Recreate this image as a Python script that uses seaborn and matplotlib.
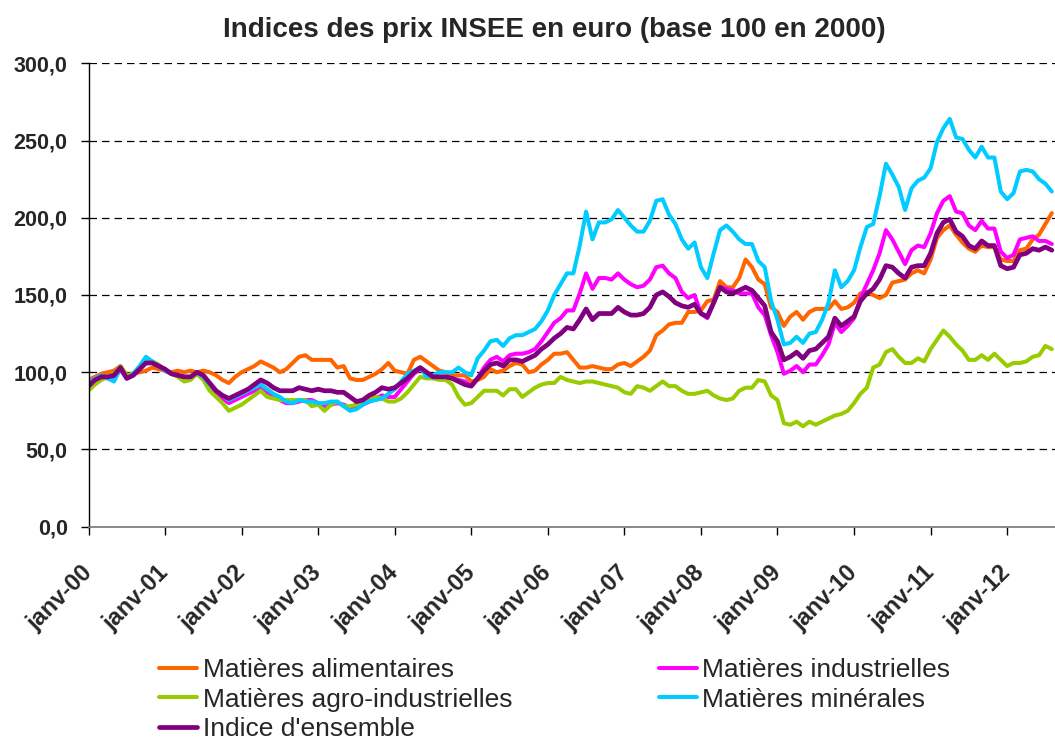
import numpy as np
import pandas as pd
import matplotlib
matplotlib.use("Agg")
import matplotlib.pyplot as plt
import matplotlib.transforms as mtransforms
import seaborn as sns
from matplotlib.ticker import FuncFormatter

# Monthly indices, Jan 2000 -> Aug 2012 (base 100 in 2000)
year_labels = ["janv-%02d" % y for y in range(13)]

alimentaires = [
    95, 97, 99, 100, 101, 104, 98, 99, 100, 101, 103, 102,
    101, 100, 101, 100, 101, 100, 101, 100, 98, 95, 93, 97,
    100, 102, 104, 107, 105, 103, 100, 102, 106, 110, 111, 108,
    108, 108, 108, 103, 104, 96, 95, 95, 97, 99, 102, 106,
    101, 100, 99, 108, 110, 107, 104, 101, 100, 98, 98, 98,
    94, 95, 97, 102, 100, 101, 104, 106, 105, 100, 101, 105,
    108, 112, 112, 113, 108, 103, 103, 104, 103, 102, 102, 105,
    106, 104, 107, 110, 114, 124, 127, 131, 132, 132, 139, 139,
    140, 146, 147, 159, 155, 155, 161, 173, 168, 160, 157, 142,
    139, 130, 136, 139, 134, 139, 141, 141, 141, 146, 141, 142,
    145, 151, 152, 150, 148, 150, 158, 159, 160, 164, 166, 164,
    173, 187, 192, 195, 189, 184, 180, 178, 182, 181, 181, 173,
    172, 172, 179, 180, 186, 189, 196, 203,
]

industrielles = [
    90, 95, 97, 96, 95, 102, 96, 98, 102, 107, 106, 104,
    101, 99, 98, 97, 96, 99, 97, 91, 86, 83, 80, 82,
    84, 86, 88, 90, 87, 85, 82, 80, 80, 81, 82, 82,
    80, 78, 79, 80, 79, 77, 77, 79, 81, 83, 85, 84,
    84, 89, 94, 99, 102, 99, 98, 97, 97, 96, 95, 94,
    91, 96, 103, 108, 110, 107, 111, 112, 112, 113, 115, 120,
    126, 132, 135, 140, 140, 151, 164, 154, 161, 161, 160, 164,
    160, 157, 155, 156, 160, 168, 169, 164, 161, 152, 148, 150,
    138, 135, 145, 155, 154, 153, 151, 151, 151, 142, 137, 124,
    113, 99, 101, 104, 100, 105, 105, 111, 118, 132, 126, 130,
    135, 148, 157, 166, 177, 192, 186, 178, 170, 179, 182, 181,
    190, 203, 211, 214, 204, 203, 195, 192, 198, 193, 193, 178,
    174, 176, 186, 187, 188, 185, 185, 183,
]

agro_industrielles = [
    88, 92, 95, 97, 99, 104, 98, 99, 103, 107, 107, 105,
    101, 99, 97, 94, 95, 99, 95, 88, 84, 80, 75, 77,
    79, 82, 85, 88, 84, 83, 82, 82, 82, 82, 82, 78,
    79, 75, 79, 81, 78, 78, 79, 80, 84, 84, 83, 81,
    81, 83, 87, 92, 97, 96, 96, 95, 95, 92, 84, 79,
    80, 84, 88, 88, 88, 85, 89, 89, 84, 87, 90, 92,
    93, 93, 97, 95, 94, 93, 94, 94, 93, 92, 91, 90,
    87, 86, 91, 90, 88, 91, 94, 91, 91, 88, 86, 86,
    87, 88, 85, 83, 82, 83, 88, 90, 90, 95, 94, 85,
    82, 67, 66, 68, 65, 68, 66, 68, 70, 72, 73, 75,
    80, 86, 90, 103, 105, 113, 115, 110, 106, 106, 109, 107,
    115, 121, 127, 123, 118, 114, 108, 108, 111, 108, 112, 108,
    104, 106, 106, 107, 110, 111, 117, 115,
]

minerales = [
    93, 96, 98, 96, 94, 103, 96, 99, 104, 110, 107, 104,
    101, 99, 98, 97, 97, 100, 97, 92, 88, 85, 82, 84,
    86, 88, 90, 92, 89, 86, 84, 81, 80, 82, 81, 81,
    80, 80, 81, 81, 78, 75, 76, 79, 81, 82, 83, 86,
    89, 94, 99, 101, 103, 97, 98, 100, 100, 100, 103, 100,
    98, 109, 114, 120, 121, 117, 122, 124, 124, 126, 128, 133,
    140, 150, 157, 164, 164, 182, 204, 186, 197, 197, 199, 205,
    200, 195, 191, 191, 198, 211, 212, 202, 196, 186, 180, 184,
    168, 161, 177, 192, 195, 191, 186, 183, 183, 172, 168, 146,
    134, 118, 119, 123, 119, 125, 126, 134, 145, 166, 155, 159,
    166, 181, 194, 196, 214, 235, 228, 220, 205, 219, 224, 226,
    232, 249, 258, 264, 252, 251, 244, 239, 246, 239, 239, 217,
    212, 216, 230, 231, 230, 225, 222, 217,
]

ensemble = [
    91, 95, 97, 97, 98, 103, 96, 98, 102, 106, 106, 104,
    102, 99, 98, 97, 97, 100, 98, 93, 88, 85, 83, 85,
    87, 89, 92, 95, 93, 90, 88, 88, 88, 90, 89, 88,
    89, 88, 88, 87, 87, 84, 81, 82, 85, 87, 90, 89,
    90, 93, 96, 100, 103, 100, 97, 97, 97, 96, 94, 92,
    91, 96, 101, 105, 106, 104, 108, 108, 107, 109, 111, 115,
    118, 122, 125, 129, 128, 134, 141, 134, 138, 138, 138, 142,
    139, 137, 137, 138, 142, 150, 152, 149, 145, 143, 142, 144,
    138, 136, 145, 155, 152, 151, 153, 155, 153, 148, 143, 126,
    120, 108, 110, 113, 109, 114, 115, 119, 123, 135, 130, 133,
    136, 146, 151, 154, 160, 169, 168, 164, 161, 168, 169, 169,
    177, 190, 197, 199, 191, 188, 182, 180, 185, 182, 182, 169,
    167, 168, 176, 177, 180, 179, 181, 179,
]

series = [
    ("Matières alimentaires", alimentaires, "#FF6600", 2.9),
    ("Matières industrielles", industrielles, "#FF00FF", 2.9),
    ("Matières agro-industrielles", agro_industrielles, "#99CC00", 2.9),
    ("Matières minérales", minerales, "#00CCFF", 2.9),
    ("Indice d'ensemble", ensemble, "#800080", 3.4),
]

sns.set_theme(style="white")
plt.rcParams["font.family"] = ["Liberation Sans", "DejaVu Sans"]

W, H = 1055, 745
fig = plt.figure(figsize=(W / 100, H / 100), dpi=100)
ax = fig.add_axes([88.5 / W, 1 - 526.7 / H, (W - 88.5) / W, (526.7 - 63.3) / H])

for name, vals, color, lw in series:
    df = pd.DataFrame({"mois": np.arange(len(vals)), "indice": vals})
    sns.lineplot(data=df, x="mois", y="indice", color=color, linewidth=lw,
                 label=name, legend=False, ax=ax, solid_joinstyle="round")

ax.set_xlim(0, 151.5)
ax.set_ylim(0, 300)
ax.set_xlabel("")
ax.set_ylabel("")

ax.set_yticks(range(0, 301, 50))
ax.yaxis.set_major_formatter(FuncFormatter(lambda v, p: f"{v:.1f}".replace(".", ",")))
ax.set_xticks(range(0, 152, 12))
ax.set_xticklabels(year_labels, rotation=45, ha="right", rotation_mode="anchor")

ax.yaxis.grid(True, linestyle=(0, (6, 4)), color="black", linewidth=0.9)
ax.set_axisbelow(True)
for s in ["top", "right"]:
    ax.spines[s].set_visible(False)
ax.spines["left"].set_color("black")
ax.spines["left"].set_linewidth(1.0)
ax.spines["bottom"].set_color("#808080")
ax.spines["bottom"].set_linewidth(1.3)

ax.tick_params(axis="both", direction="out", length=6, width=1, color="black",
               bottom=True, left=True)
ax.tick_params(axis="y", pad=9, labelsize=15.5)
ax.tick_params(axis="x", pad=19, labelsize=17)
shift = mtransforms.ScaledTranslation(-8 / 100, 0, fig.dpi_scale_trans)
for lab in ax.get_xticklabels():
    lab.set_fontweight("bold")
    lab.set_transform(lab.get_transform() + shift)
for lab in ax.get_yticklabels():
    lab.set_fontweight("bold")

fig.text(554 / W, 1 - 30 / H, "Indices des prix INSEE en euro (base 100 en 2000)",
         ha="center", va="center", fontsize=20, fontweight="bold")

lines = ax.get_lines()
order = [0, 2, 4, 1, 3]
fig.legend([lines[i] for i in order], [series[i][0] for i in order],
           ncol=2, loc="upper left", bbox_to_anchor=(159 / W, 1 - 658 / H),
           frameon=False, fontsize=19, handlelength=1.45, handletextpad=0.2,
           columnspacing=5.55, labelspacing=0.21, borderpad=0, borderaxespad=0)

fig.savefig("out.png", dpi=100)
